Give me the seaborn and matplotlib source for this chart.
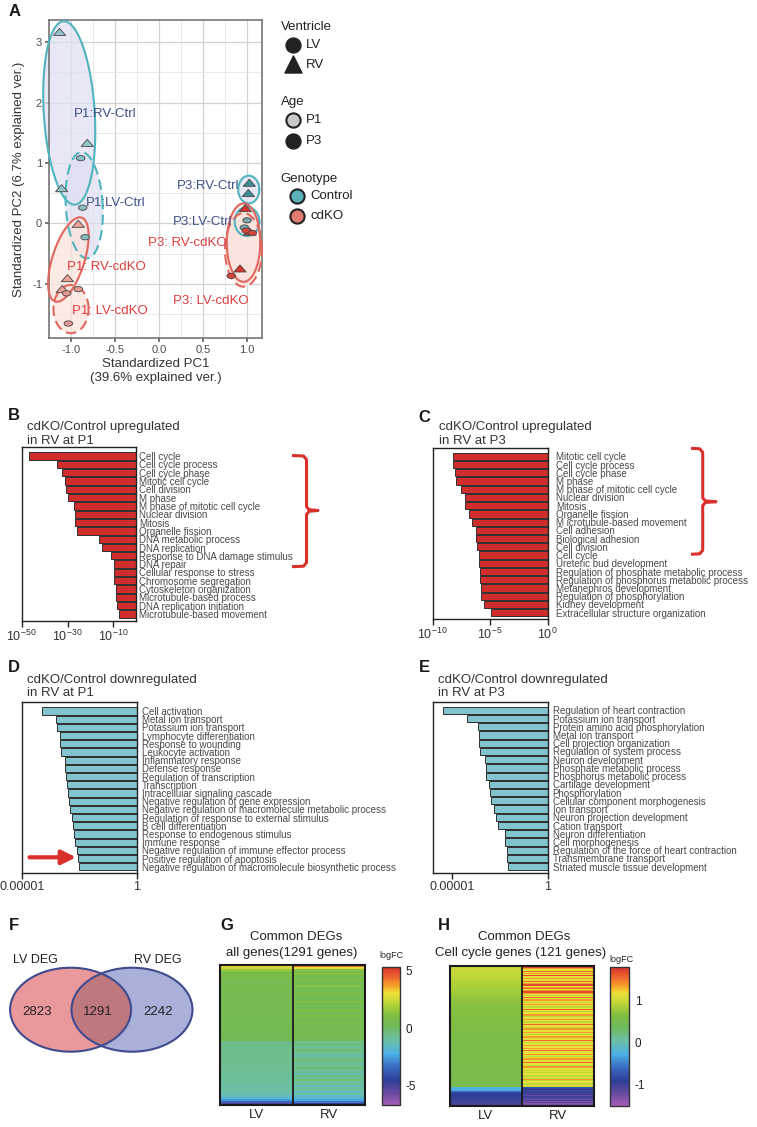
import numpy as np
import pandas as pd
import matplotlib
matplotlib.use("Agg")
import matplotlib.pyplot as plt
import seaborn as sns
from matplotlib.path import Path
from matplotlib.patches import Ellipse
from matplotlib.colors import LinearSegmentedColormap
from matplotlib.ticker import MultipleLocator

# ---------------- data ----------------
# Panel A: PCA
pc1 = [-1.13, -0.815, -1.106, -0.89, -0.867, -0.84, -0.917, -1.04, -1.10,
       -1.05, -0.917, -1.03, 1.026, 1.015, 1.00, 0.97, 0.98, 0.92, 1.03,
       0.99, 1.06, 0.82]
pc2 = [3.17, 1.33, 0.58, 1.08, 0.26, -0.23, -0.01, -0.91, -1.09,
       -1.16, -1.09, -1.66, 0.67, 0.50, 0.05, -0.07, 0.25, -0.75, -0.14,
       -0.12, -0.16, -0.87]
pca_group = (['P1:RV-Ctrl'] * 3 + ['P1:LV-Ctrl'] * 3 + ['P1:RV-cdKO'] * 3 +
             ['P1:LV-cdKO'] * 3 + ['P3:RV-Ctrl'] * 2 + ['P3:LV-Ctrl'] * 2 +
             ['P3:RV-cdKO'] * 3 + ['P3:LV-cdKO'] * 3)

ell_names = ['P1:RV-Ctrl', 'P1:LV-Ctrl', 'P1:RV-cdKO', 'P1:LV-cdKO',
             'P3:RV-Ctrl', 'P3:LV-Ctrl', 'P3:RV-cdKO', 'P3:LV-cdKO']
ell_cx = [-1.02, -0.85, -1.03, -1.00, 1.02, 1.00, 0.96, 0.96]
ell_cy = [1.83, 0.30, -0.60, -1.42, 0.56, 0.03, -0.32, -0.44]
ell_rx = [0.29, 0.21, 0.19, 0.20, 0.12, 0.14, 0.19, 0.21]
ell_ry = [1.52, 0.88, 0.70, 0.40, 0.23, 0.24, 0.65, 0.61]
ell_shear = [-0.06, -0.03, 0.13, 0.0, 0.0, 0.0, 0.0, 0.0]
ell_dashed = [False, True, False, True, False, False, False, True]

lab_text = ['P1:RV-Ctrl', 'P1:LV-Ctrl', 'P1: RV-cdKO', 'P1: LV-cdKO',
            'P3:RV-Ctrl', 'P3:LV-Ctrl', 'P3: RV-cdKO', 'P3: LV-cdKO']
lab_x = [-0.966, -0.833, -1.05, -0.985, 0.20, 0.16, -0.12, 0.16]
lab_y = [1.81, 0.34, -0.72, -1.45, 0.62, 0.03, -0.32, -1.28]

# Panels B-E: GO terms, -log10(p)
B_terms = ['Cell cycle', 'Cell cycle process', 'Cell cycle phase', 'Mitotic cell cycle',
           'Cell division', 'M phase', 'M phase of mitotic cell cycle', 'Nuclear division',
           'Mitosis', 'Organelle fission', 'DNA metabolic process', 'DNA replication',
           'Response to DNA damage stimulus', 'DNA repair', 'Cellular response to stress',
           'Chromosome segregation', 'Cytoskeleton organization', 'Microtubule-based process',
           'DNA replication initiation', 'Microtubule-based movement']
B_logp = [46.7, 34.5, 32.6, 31.0, 30.7, 29.7, 27.3, 26.7, 26.7, 25.8,
          16.3, 14.8, 10.9, 9.9, 9.7, 9.6, 9.0, 9.0, 8.4, 7.3]

C_terms = ['Mitotic cell cycle', 'Cell cycle process', 'Cell cycle phase', 'M phase',
           'M phase of mitotic cell cycle', 'Nuclear division', 'Mitosis', 'Organelle fission',
           'M icrotubule-based movement', 'Cell adhesion', 'Biological adhesion', 'Cell division',
           'Cell cycle', 'Ureteric bud development', 'Regulation of phosphate metabolic process',
           'Regulation of phosphorus metabolic process', 'Metanephros development',
           'Regulation of phosphorylation', 'Kidney development',
           'Extracellular structure organization']
C_logp = [8.26, 8.2, 8.03, 7.97, 7.54, 7.16, 7.16, 6.84, 6.61, 6.26,
          6.2, 6.17, 6.0, 5.94, 5.86, 5.86, 5.83, 5.8, 5.54, 4.96]

D_terms = ['Cell activation', 'Metal ion transport', 'Potassium ion transport',
           'Lymphocyte differentiation', 'Response to wounding', 'Leukocyte activation',
           'Inflammatory response', 'Defense response', 'Regulation of transcription',
           'Transcription', 'Intracelluiar signaling cascade',
           'Negative regulation of gene expression',
           'Negative regulation of macromolecule metabolic process',
           'Regulation of response to external stimulus', 'B cell differentiation',
           'Response to endogenous stimulus', 'Immune response',
           'Negative regulation of immune effector process',
           'Positive regulation of apoptosis',
           'Negative regulation of macromolecule biosynthetic process']
D_logp = [4.12, 3.55, 3.48, 3.35, 3.35, 3.3, 3.16, 3.14, 3.1, 3.07,
          3.01, 2.98, 2.94, 2.83, 2.79, 2.75, 2.72, 2.63, 2.58, 2.54]

E_terms = ['Regulation of heart contraction', 'Potassium ion transport',
           'Protein amino acid phosphorylation', 'Metal ion transport',
           'Cell projection organization', 'Regulation of system process',
           'Neuron development', 'Phosphate metabolic process', 'Phosphorus metabolic process',
           'Cartilage development', 'Phosphorylation', 'Cellular component morphogenesis',
           'Ion transport', 'Neuron projection development', 'Cation transport',
           'Neuron differentiation', 'Cell morphogenesis',
           'Regulation of the force of heart contraction', 'Transmembrane transport',
           'Striated muscle tissue development']
E_logp = [5.47, 4.21, 3.66, 3.61, 3.56, 3.54, 3.27, 3.23, 3.21, 3.06,
          3.0, 2.97, 2.78, 2.72, 2.57, 2.25, 2.22, 2.12, 2.1, 2.05]

# Panel F: Venn counts
venn_lv_only, venn_both, venn_rv_only = 2823, 1291, 2242

# Panel G: logFC of all common DEGs (binned rows, top to bottom)
G_LV = ([3.2, 2.4, 1.6] +
        [0.9, 0.8, 0.7, 0.7, 0.6, 0.6, 0.6, 0.6, 0.6, 0.55, 0.55, 0.55, 0.55, 0.5, 0.5,
         0.5, 0.5, 0.5, 0.5, 0.5, 0.5, 0.5, 0.5, 0.45, 0.45, 0.45, 0.45, 0.45, 0.45, 0.45,
         0.45, 0.4, 0.4, 0.4, 0.4] +
        [-0.6, -0.6, -0.6, -0.6, -0.6, -0.6, -0.65, -0.65, -0.65, -0.65, -0.7, -0.7, -0.7,
         -0.7, -0.75, -0.75, -0.75, -0.8, -0.8, -0.85, -0.85, -0.9, -0.9, -1.0, -1.0, -1.1,
         -1.2, -1.4] +
        [-1.9, -2.6, -3.6, -5.2])
G_RV = ([4.2, 2.8, 1.4] +
        [0.6, 1.3, 0.5, 0.5, 1.1, 0.5, 0.4, 1.2, 0.5, 0.5, 0.5, 1.0, 0.5, 0.4, 0.5, 1.1,
         0.5, 0.5, 0.4, 0.9, 0.5, 0.5, 1.0, 0.4, 0.5, 0.5, 0.9, 0.4, 0.5, 0.5, 0.4, 0.8,
         0.4, 0.5, 0.4] +
        [-0.7, -0.3, -0.7, -0.8, -0.2, -0.7, -0.7, -1.2, -0.6, -0.3, -0.7, -0.8, -0.7, -0.2,
         -0.9, -0.7, -1.3, -0.6, -0.8, -0.3, -0.9, -0.8, -1.4, -0.8, -0.9, -1.5, -1.0, -1.6] +
        [-1.8, -2.4, -3.2, -4.8])

# Panel H: logFC of 121 cell cycle genes
H_LV = [1.02, 1.00, 1.00, 0.98, 0.98, 0.97, 0.96, 0.95, 0.95, 0.94, 0.93, 0.92, 0.91, 0.90, 0.89,
        0.88, 0.87, 0.86, 0.85, 0.84, 0.83, 0.82, 0.81, 0.80, 0.79, 0.78, 0.77, 0.76, 0.75, 0.74,
        0.73, 0.72, 0.71, 0.70, 0.70, 0.69, 0.68, 0.68, 0.67, 0.66, 0.66, 0.65, 0.65, 0.64, 0.64,
        0.63, 0.63, 0.62, 0.62, 0.62, 0.61, 0.61, 0.61, 0.60, 0.60, 0.60, 0.60, 0.59, 0.59, 0.59,
        0.59, 0.58, 0.58, 0.58, 0.58, 0.58, 0.57, 0.57, 0.57, 0.57, 0.57, 0.57, 0.56, 0.56, 0.56,
        0.56, 0.56, 0.56, 0.56, 0.55, 0.55, 0.55, 0.55, 0.55, 0.55, 0.55, 0.55, 0.54, 0.54, 0.54,
        0.54, 0.54, 0.54, 0.54, 0.53, 0.53, 0.53, 0.53, 0.53, 0.52, 0.52, 0.52, 0.51, 0.50, 0.48,
        -0.15, -0.25, -0.35, -0.55,
        -0.85, -0.88, -0.90, -0.92, -0.94, -0.95, -0.97, -0.98, -1.00, -1.02, -1.06, -1.15]
H_RV = [1.55, 1.70, 1.38, 1.15, 1.55, 1.15, 1.38, 1.15, 1.70, 1.15, 1.38, 1.15, 1.15, 1.55, 1.15,
        1.38, 1.70, 1.15, 1.38, 1.55, 1.15, 1.38, 1.70, 1.38, 1.15, 0.95, 1.15, 1.55, 1.15, 1.38,
        1.15, 0.95, 1.15, 1.38, 1.15, 0.95, 1.15, 1.55, 1.15, 0.95, 1.15, 1.15, 1.38, 0.95, 1.15,
        1.15, 1.38, 1.15, 0.95, 1.15, 1.55, 1.15, 1.15, 0.95, 1.38, 1.15, 1.15, 1.38, 1.15, 0.95,
        1.15, 1.38, 1.15, 1.15, 1.55, 1.15, 0.95, 1.15, 1.38, 1.15, 1.15, 1.38, 1.15, 1.55, 1.15,
        1.15, 1.38, 1.15, 0.95, 1.15, 1.38, 1.15, 1.15, 1.55, 1.15, 1.15, 0.95, 1.38, 1.15, 1.15,
        0.95, 1.15, 0.95, 1.15, 0.95, 0.95, 1.15, 0.95, 1.38, 0.95, 1.15, 0.95, 0.95, 1.15, 0.95,
        -0.75, -0.95, -0.85, -1.05, -0.90, -1.10, -0.95, -1.20, -1.00, -1.10, -1.25, -1.00, -1.30,
        -1.15, -1.35, -1.45]

# ---------------- style ----------------
sns.set_theme(style="white")
plt.rcParams['font.family'] = ['Liberation Sans', 'DejaVu Sans']
plt.rcParams['mathtext.default'] = 'regular'
plt.rcParams['axes.unicode_minus'] = False

W, H = 757, 1127
fig = plt.figure(figsize=(W / 100, H / 100), dpi=100)


def px_axes(l, t, r, b):
    return fig.add_axes([l / W, 1 - b / H, (r - l) / W, (b - t) / H])


red = '#d12d2c'
blue_bar = '#82c4cd'
txt = '#333333'

# ---------------- Panel A ----------------
axA = px_axes(49, 20, 262, 338)
pca = pd.DataFrame({'PC1': pc1, 'PC2': pc2, 'group': pca_group})
pca['Ventricle'] = np.where(pca['group'].str.contains('RV'), 'RV', 'LV')

circ = Path.unit_circle()
ell_marker = Path(circ.vertices * np.array([1.0, 0.62]), circ.codes)
tri_marker = Path([[-1, -0.55], [1, -0.55], [0, 0.6], [-1, -0.55]],
                  [Path.MOVETO, Path.LINETO, Path.LINETO, Path.CLOSEPOLY])

pt_colors = {'P1:RV-Ctrl': '#93c6cc', 'P1:LV-Ctrl': '#86bcc3',
             'P1:RV-cdKO': '#eba39c', 'P1:LV-cdKO': '#e59b94',
             'P3:RV-Ctrl': '#3d8f97', 'P3:LV-Ctrl': '#7aa7ab',
             'P3:RV-cdKO': '#d8342e', 'P3:LV-cdKO': '#d9443c'}

t = np.linspace(0, 2 * np.pi, 200)
for i, name in enumerate(ell_names):
    ctrl = 'Ctrl' in name
    ex = ell_cx[i] + ell_rx[i] * np.cos(t) + ell_shear[i] * np.sin(t)
    ey = ell_cy[i] + ell_ry[i] * np.sin(t)
    axA.fill(ex, ey, color='#dfe0f2' if ctrl else '#fbe3db', alpha=0.75,
             lw=0, zorder=1.5, clip_on=False)
    axA.plot(ex, ey, color='#4fb4bd' if ctrl else '#e0675e', lw=1.5,
             ls=(0, (5, 2.5)) if ell_dashed[i] else '-', zorder=3, clip_on=False)

sns.scatterplot(data=pca, x='PC1', y='PC2', hue='group', palette=pt_colors,
                style='Ventricle', markers={'LV': ell_marker, 'RV': tri_marker},
                size='Ventricle', sizes={'LV': 38, 'RV': 78},
                edgecolor='#444444', linewidth=0.6, legend=False, ax=axA, zorder=5)

for i, s in enumerate(lab_text):
    axA.text(lab_x[i], lab_y[i], s, ha='left', va='center', fontsize=9.5,
             color='#3d5289' if 'Ctrl' in s else '#e03c3c', zorder=6)

axA.set_xlim(-1.25, 1.17)
axA.set_ylim(-1.9, 3.37)
axA.set_xticks([-1.0, -0.5, 0.0, 0.5, 1.0])
axA.set_yticks([-1, 0, 1, 2, 3])
axA.xaxis.set_minor_locator(MultipleLocator(0.25))
axA.yaxis.set_minor_locator(MultipleLocator(0.5))
axA.set_axisbelow(True)
axA.grid(which='major', color='#d2d2d2', lw=0.9)
axA.grid(which='minor', color='#e2e2e2', lw=0.5)
axA.tick_params(which='major', length=3, color='#666666', labelsize=8,
                labelcolor='#4d4d4d', pad=2, bottom=True, left=True)
axA.tick_params(which='minor', length=0)
for sp in axA.spines.values():
    sp.set_color('#6b6b6b')
    sp.set_linewidth(1.1)
axA.set_xlabel('Standardized PC1\n(39.6% explained ver.)', fontsize=9.5,
               color=txt, labelpad=2, linespacing=1.25)
axA.set_ylabel('Standardized PC2 (6.7% explained ver.)', fontsize=9.5,
               color=txt, labelpad=5)

# ---------------- Panels B-E ----------------
bar_specs = [
    (B_terms, B_logp, red, (21.7, 447.3, 136.2, 620.7), 50, [50, 30, 10],
     [r'$10^{-50}$', r'$10^{-30}$', r'$10^{-10}$'], 2.2),
    (C_terms, C_logp, red, (432.7, 447.7, 547.7, 619.3), 10, [10, 5, 0],
     [r'$10^{-10}$', r'$10^{-5}$', r'$10^{0}$'], 6.0),
    (D_terms, D_logp, blue_bar, (22.3, 702.3, 137.0, 873.3), 5, [5, 0],
     ['0.00001', '1'], 3.4),
    (E_terms, E_logp, blue_bar, (432.7, 701.7, 547.7, 873.3), 6.0, [5, 0],
     ['0.00001', '1'], 3.6),
]
for terms, vals, col, rect, xmax, ticks, ticklabels, pad in bar_specs:
    ax = px_axes(*rect)
    df = pd.DataFrame({'term': terms, 'score': vals})
    sns.barplot(data=df, x='score', y='term', orient='h', color=col, saturation=1,
                edgecolor='#2e2e2e', linewidth=0.7, width=0.88, ax=ax)
    ax.set_xlim(xmax, 0)
    ax.set_ylim(19.8, -1.05)
    ax.set_xticks(ticks)
    ax.set_xticklabels(ticklabels)
    ax.set_xlabel('')
    ax.set_ylabel('')
    ax.yaxis.tick_right()
    ax.tick_params(axis='y', length=0, pad=pad, labelsize=7, labelcolor='#4a4a4a')
    ax.tick_params(axis='x', bottom=True, length=4, width=1, color='#222222',
                   pad=1.5, labelsize=9, labelcolor=txt)
    for sp in ax.spines.values():
        sp.set_visible(True)
        sp.set_color('#222222')
        sp.set_linewidth(1)

# ---------------- Panel F ----------------
axF = px_axes(0, 940, 210, 1070)
axF.set_xlim(0, 210)
axF.set_ylim(1070, 940)
axF.axis('off')
lv_c, rv_c = (70.6, 1009.7), (132.0, 1009.7)
lv_fill = Ellipse(lv_c, 121, 84, facecolor='#e9989b', edgecolor='none')
rv_fill = Ellipse(rv_c, 121, 84, facecolor='#a9b1db', edgecolor='none')
axF.add_patch(lv_fill)
axF.add_patch(rv_fill)
ov_fill = Ellipse(rv_c, 121, 84, facecolor='#c0787f', edgecolor='none')
axF.add_patch(ov_fill)
ov_fill.set_clip_path(lv_fill)
for c in (lv_c, rv_c):
    axF.add_patch(Ellipse(c, 121, 84, facecolor='none', edgecolor='#3f4b8c', lw=1.5))
axF.text(36.8, 1012.3, f'{venn_lv_only}', ha='center', va='center', fontsize=9.5, color='#222')
axF.text(98.1, 1012.3, f'{venn_both}', ha='center', va='center', fontsize=9.5, color='#222')
axF.text(158.5, 1012.3, f'{venn_rv_only}', ha='center', va='center', fontsize=9.5, color='#222')
axF.text(35.8, 960, 'LV DEG', ha='center', va='center', fontsize=9, color='#222')
axF.text(157.5, 960, 'RV DEG', ha='center', va='center', fontsize=9, color='#222')

# ---------------- Panels G, H ----------------
cmap = LinearSegmentedColormap.from_list('logfc', [
    (0.00, '#a55db5'), (0.08, '#6a4ca0'), (0.18, '#2d3e96'), (0.28, '#3a6fc4'),
    (0.37, '#4db0e6'), (0.47, '#6cc0a6'), (0.57, '#6fb95a'), (0.66, '#84c03f'),
    (0.73, '#b8d538'), (0.81, '#efe13a'), (0.86, '#f5a52a'), (0.92, '#ef6a2d'),
    (1.00, '#d7302b')])

heat_specs = [
    (pd.DataFrame({'LV': G_LV, 'RV': G_RV}), (220.3, 965, 365.1, 1105),
     (382, 966.7, 400.4, 1105), -6.68, 5.35, [5, 0, -5]),
    (pd.DataFrame({'LV': H_LV, 'RV': H_RV}), (449.6, 966, 593.5, 1105.7),
     (610, 966.7, 629.3, 1105.7), -1.51, 1.82, [1, 0, -1]),
]
for mat, rect, crect, vmin, vmax, cticks in heat_specs:
    ax = px_axes(*rect)
    cax = px_axes(*crect)
    sns.heatmap(mat, cmap=cmap, vmin=vmin, vmax=vmax, ax=ax, cbar_ax=cax,
                xticklabels=['LV', 'RV'], yticklabels=False)
    for sp in ax.spines.values():
        sp.set_visible(True)
        sp.set_color('#1a1a1a')
        sp.set_linewidth(1.5)
    ax.axvline(1, color='#1a1a1a', lw=1.3)
    ax.tick_params(axis='x', length=0, pad=3, labelsize=9.5, labelcolor='#222')
    cbar = ax.collections[0].colorbar
    cbar.set_ticks(cticks)
    cbar.set_ticklabels([str(v) for v in cticks])
    cbar.outline.set_edgecolor('#333333')
    cbar.outline.set_linewidth(1)
    cax.tick_params(direction='in', length=3, width=1, color='#333', labelsize=8.5,
                    labelcolor='#222', pad=4, left=True, right=True)

# ---------------- overlay: letters, titles, legend, brackets ----------------
ov = fig.add_axes([0, 0, 1, 1])
ov.set_xlim(0, W)
ov.set_ylim(H, 0)
ov.axis('off')

for letter, x, y in [('A', 15, 12), ('B', 14, 415), ('C', 424.5, 417), ('D', 14, 668),
                     ('E', 424.5, 668), ('F', 14, 926), ('G', 226.5, 926), ('H', 443.6, 926)]:
    ov.text(x, y, letter, ha='center', va='center', fontsize=12, fontweight='bold', color='k')

for x, y, s in [(27, 426.7, 'cdKO/Control upregulated'), (27, 440.7, 'in RV at P1'),
                (439.3, 427.3, 'cdKO/Control upregulated'), (439.3, 441.3, 'in RV at P3'),
                (27, 680, 'cdKO/Control downregulated'), (27, 693.5, 'in RV at P1'),
                (438.3, 680, 'cdKO/Control downregulated'), (438.3, 693.5, 'in RV at P3')]:
    ov.text(x, y, s, ha='left', va='center', fontsize=9.5, color=txt)

for x, y, s in [(296, 936.7, 'Common DEGs'), (291.7, 953.3, 'all genes(1291 genes)'),
                (524.5, 936.7, 'Common DEGs'), (521, 953.3, 'Cell cycle genes (121 genes)')]:
    ov.text(x, y, s, ha='center', va='center', fontsize=9.5, color='#222')
ov.text(391.7, 955, 'logFC', ha='center', va='center', fontsize=6.5, color='#222')
ov.text(621, 959, 'logFC', ha='center', va='center', fontsize=6.5, color='#222')

# legend of panel A
leg = '#222222'
for x, y, s in [(280.7, 26.7, 'Ventricle'), (280.7, 101.7, 'Age'), (280, 179, 'Genotype')]:
    ov.text(x, y, s, ha='left', va='center', fontsize=9.5, color=leg)
ov.scatter([293.3], [45.3], s=115, marker='o', color=leg)
ov.scatter([293.3], [63.5], s=150, marker='^', color=leg)
ov.scatter([293.3], [120], s=105, marker='o', facecolor='#c8c8c8', edgecolor=leg, lw=1.5)
ov.scatter([293.3], [141.3], s=115, marker='o', color=leg)
ov.scatter([297.3], [196], s=105, marker='o', facecolor='#5bb1b9', edgecolor=leg, lw=1.5)
ov.scatter([297.3], [216], s=105, marker='o', facecolor='#e27b72', edgecolor=leg, lw=1.5)
for x, y, s in [(306, 45.3, 'LV'), (306, 65, 'RV'), (306, 120, 'P1'), (306, 141.3, 'P3'),
                (310.7, 196, 'Control'), (310.7, 216, 'cdKO')]:
    ov.text(x, y, s, ha='left', va='center', fontsize=9.5, color=leg)

# brackets next to panels B and C
brk = '#d9302c'


def bracket(x0, xv, xn, top, bot, mid):
    xs = [x0, xv - 3, xv, xv, xv + 2.5, xn, xv + 2.5, xv, xv, xv - 3, x0]
    ys = [top, top + 0.5, top + 4, mid - 4, mid - 0.8, mid, mid + 0.8, mid + 4, bot - 4, bot - 0.5, bot]
    ov.plot(xs, ys, color=brk, lw=2.2, solid_joinstyle='round', solid_capstyle='butt')


bracket(292, 306.5, 318, 455.5, 566.7, 510.5)
bracket(691, 702.7, 716, 448.3, 554.3, 501.7)

# arrow in panel D
ov.annotate('', xy=(76, 857.3), xytext=(29.5, 857.3),
            arrowprops=dict(arrowstyle='-|>,head_length=0.7,head_width=0.35',
                            color=brk, lw=3, shrinkA=0, shrinkB=0))

fig.savefig('out.png', dpi=100)
